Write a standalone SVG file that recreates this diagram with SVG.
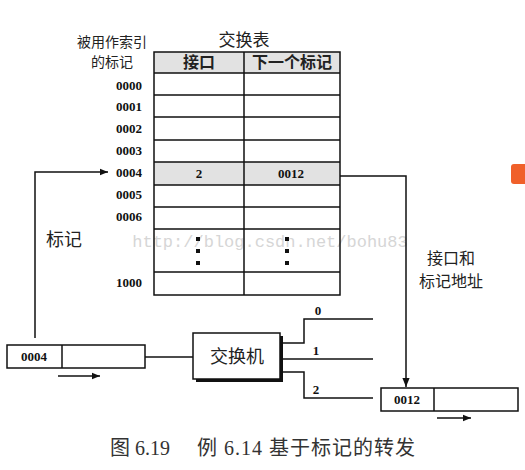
<svg xmlns="http://www.w3.org/2000/svg" width="525" height="470" viewBox="0 0 525 470">
<defs>
<marker id="ah" viewBox="0 0 10 10" refX="10" refY="5" markerWidth="8" markerHeight="8" markerUnits="userSpaceOnUse" orient="auto"><path d="M0,1 L10,5 L0,9 z" fill="#111"/></marker>
<marker id="ah2" viewBox="0 0 10 10" refX="10" refY="5" markerWidth="9" markerHeight="9" markerUnits="userSpaceOnUse" orient="auto"><path d="M0,1 L10,5 L0,9 z" fill="#111"/></marker>
</defs>
<style>
.ln{stroke:#111;stroke-width:1.5;fill:none}
.cell{stroke:#111;stroke-width:1.5;fill:none}
.cj{font-family:"Noto Sans CJK SC","Noto Sans",sans-serif;fill:#222}
.num{font-family:"Liberation Serif",serif;font-weight:bold;font-size:13px;fill:#111}
.gray{fill:#e2e2e2}
</style>
<rect width="525" height="470" fill="#fff"/>
<text x="270" y="247" font-family="Liberation Mono,monospace" font-size="17" fill="#d6d6d6" text-anchor="middle">http://blog.csdn.net/bohu83</text>
<path d="M514,164 h11 v20 h-11 q-3,0 -3,-3 v-14 q0,-3 3,-3z" fill="#f0602a"/>
<g id="table-title">
<text class="cj" x="244" y="46" font-size="17" text-anchor="middle">交换表</text>
<text class="cj" x="112" y="47" font-size="14" text-anchor="middle">被用作索引</text>
<text class="cj" x="112" y="67" font-size="14" text-anchor="middle">的标记</text>
</g>
<g id="table">
<rect class="gray" x="154" y="52" width="186" height="21"/>
<rect class="gray" x="154" y="162" width="186" height="23"/>
<rect class="cell" x="154" y="52" width="186" height="243"/>
<path class="cell" d="M244,52 V295 M154,73 H340 M154,95 H340 M154,117 H340 M154,140 H340 M154,162 H340 M154,185 H340 M154,207 H340 M154,229 H340 M154,272 H340"/>
<text class="cj" x="199" y="68" font-size="16" font-weight="bold" text-anchor="middle">接口</text>
<text class="cj" x="292" y="68" font-size="16" font-weight="bold" text-anchor="middle">下一个标记</text>
<text class="num" x="199" y="178" text-anchor="middle">2</text>
<text class="num" x="291" y="178" text-anchor="middle">0012</text>
<g fill="#111">
<rect x="196" y="237" width="4" height="4"/><rect x="196" y="249" width="4" height="4"/><rect x="196" y="261" width="4" height="4"/>
<rect x="285" y="237" width="4" height="4"/><rect x="285" y="249" width="4" height="4"/><rect x="285" y="261" width="4" height="4"/>
</g>
<g text-anchor="end">
<text class="num" x="142" y="90">0000</text>
<text class="num" x="142" y="111">0001</text>
<text class="num" x="142" y="133">0002</text>
<text class="num" x="142" y="155">0003</text>
<text class="num" x="142" y="177">0004</text>
<text class="num" x="142" y="199">0005</text>
<text class="num" x="142" y="221">0006</text>
<text class="num" x="142" y="287">1000</text>
</g>
</g>
<g id="packet-in">
<rect x="7" y="345" width="138" height="23" fill="#fff" stroke="#111" stroke-width="1.5"/>
<line x1="62" y1="345" x2="62" y2="368" class="ln"/>
<text class="num" x="34" y="361" text-anchor="middle" font-size="12">0004</text>
</g>
<g id="switch">
<rect x="196" y="336" width="87" height="46" fill="#111"/>
<rect x="193" y="333" width="87" height="46" fill="#fff" stroke="#111" stroke-width="1.5"/>
<text class="cj" x="237" y="363" font-size="18" text-anchor="middle">交换机</text>
</g>
<g id="packet-out">
<rect x="381" y="388" width="137" height="23" fill="#fff" stroke="#111" stroke-width="1.5"/>
<line x1="434" y1="388" x2="434" y2="411" class="ln"/>
<text class="num" x="407" y="404" text-anchor="middle" font-size="12">0012</text>
</g>
<g id="connectors">
<path class="ln" d="M35,338 V172 H108" marker-end="url(#ah)"/>
<path class="ln" d="M340,176 H406 V387" marker-end="url(#ah2)"/>
<path class="ln" d="M145,357 H193"/>
<path class="ln" d="M280,343 H304 V319 H373"/>
<path class="ln" d="M280,359 H373"/>
<path class="ln" d="M280,372 H304 V398 H373"/>
<path class="ln" d="M58,376 H100" marker-end="url(#ah)"/>
<path class="ln" d="M437,418 H471" marker-end="url(#ah)"/>
<text class="num" x="318" y="315" font-weight="normal" font-size="12" text-anchor="middle">0</text>
<text class="num" x="316" y="355" font-weight="normal" font-size="12" text-anchor="middle">1</text>
<text class="num" x="316" y="394" font-weight="normal" font-size="12" text-anchor="middle">2</text>
<text class="cj" x="64" y="246" font-size="18" text-anchor="middle">标记</text>
<text class="cj" x="451" y="264" font-size="16" text-anchor="middle">接口和</text>
<text class="cj" x="451" y="287" font-size="16" text-anchor="middle">标记地址</text>
</g>
<g id="caption" font-family="Liberation Serif,Noto Sans CJK SC,serif" font-size="20" fill="#333">
<text x="110" y="455">图 6.19</text>
<text x="197" y="455" textLength="218" lengthAdjust="spacing">例 6.14 基于标记的转发</text>
</g>
</svg>
